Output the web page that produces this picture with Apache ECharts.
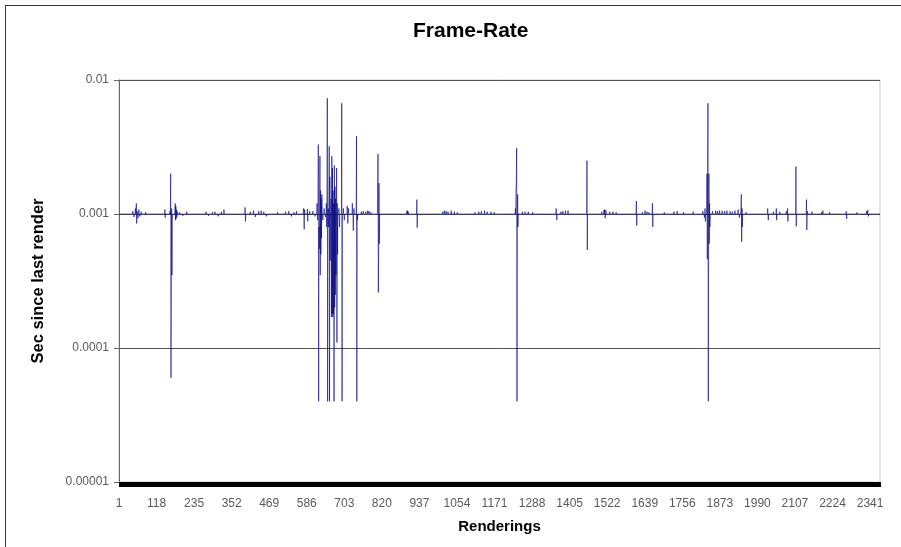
<!DOCTYPE html>
<html>
<head>
<meta charset="utf-8">
<script src="https://cdn.jsdelivr.net/npm/echarts@6/dist/echarts.min.js"></script>
<style>
  html, body { margin: 0; padding: 0; background: #ffffff; }
  #wrap { position: relative; width: 901px; height: 547px; overflow: hidden; }
  #frame { position: absolute; left: 5px; top: 5px; width: 1000px; height: 1000px; border-left: 1px solid #333; border-top: 1px solid #333; pointer-events: none; }
  #chart { position: absolute; left: 0; top: 0; width: 901px; height: 547px; }
</style>
</head>
<body>
<div id="wrap">
  <div id="chart"></div>
  <div id="frame"></div>
</div>
<script>
// ---- data ----
const renderingCount = 2372;              // number of renderings on the category axis
const baseSeconds = 0.001;                // steady frame time (sec since last render)
const xTickLabels = ['1','118','235','352','469','586','703','820','937','1054','1171','1288','1405','1522','1639','1756','1873','1990','2107','2224','2341'];
const yTickLabels = ['0.00001','0.0001','0.001','0.01'];

// renderings whose frame time departs from the steady value
const spikeRendering = [
  44,48,52,55,56,58,60,63,66,70,84,
  144,145,160,162,163,164,165,166,167,176,177,178,179,180,181,183,190,200,212,
  272,280,292,300,310,320,328,394,395,410,420,426,436,444,452,460,495,520,530,538,546,554,
  576,578,579,588,589,595,605,612,618,620,622,623,624,625,627,628,629,630,631,632,633,636,640,644,
  647,648,650,651,653,654,656,657,658,659,662,663,664,665,666,667,668,669,670,671,672,673,674,675,676,677,
  679,680,681,682,686,688,695,696,700,703,712,714,716,728,731,733,741,742,744,
  756,762,770,776,780,786,807,808,809,810,811,812,
  898,900,902,929,930,1010,1015,1020,1026,1036,1046,1055,1110,1122,1130,1140,1148,1160,1170,
  1236,1238,1239,1240,1241,1242,1243,1244,1258,1266,1276,1290,
  1363,1365,1378,1384,1392,1400,1459,1460,
  1505,1512,1514,1516,1518,1530,1540,1550,1613,1614,1632,1640,1646,1652,1663,1664,
  1700,1730,1740,1760,1790,1820,1825,1827,1828,
  1833,1834,1835,1836,1837,1838,1839,1840,1841,1842,
  1850,1860,1866,1872,1880,1888,1895,1905,1912,1920,1930,1934,1939,1940,1941,1942,1943,1955,
  2022,2024,2040,2049,2050,2060,2080,2084,2085,2110,2111,2143,2144,2146,
  2160,2190,2194,2215,2267,2268,2300,2330,2334,2336
];
const spikeSeconds = [
  0.00105,0.00095,0.0011,0.0012,0.00085,0.00105,0.00093,0.00108,0.00096,0.00104,0.00103,
  0.00108,0.00094,0.00105,0.002,0.00006,0.00034,0.0011,0.00035,0.0009,0.0012,0.0009,0.00115,0.00092,0.00108,0.00095,0.00104,0.00103,0.00097,0.00104,
  0.00104,0.00097,0.00103,0.00104,0.00096,0.00104,0.00108,0.00112,0.00088,0.00104,0.00106,0.00095,0.00105,0.00106,0.00104,0.00096,0.00103,0.00104,0.00105,0.00096,0.00103,0.00105,
  0.0011,0.00077,0.00108,0.00109,0.00088,0.00105,0.00105,0.00096,0.0012,0.0009,0.0033,0.00004,0.0008,0.00055,0.0027,0.00035,0.0015,0.0005,0.0013,0.00066,0.0014,0.0009,0.0011,0.00095,
  0.0012,0.0008,0.0073,0.00004,0.0011,0.0008,0.0032,0.00004,0.0019,0.00045,0.0013,0.00017,0.0027,0.00018,0.0022,0.00017,0.0015,0.00018,0.0012,0.00004,0.0023,0.0002,0.0016,0.00025,0.0013,0.00035,
  0.0022,0.00011,0.0012,0.0005,0.0011,0.0008,0.0067,0.00004,0.0011,0.0009,0.00115,0.00085,0.0011,0.0012,0.00075,0.0011,0.0038,0.00004,0.0009,
  0.00104,0.00105,0.00104,0.00106,0.00105,0.00103,0.0018,0.0028,0.00026,0.0005,0.0017,0.0006,
  0.00105,0.00106,0.00104,0.00128,0.00079,0.00104,0.00106,0.00105,0.00104,0.00106,0.00104,0.00103,0.00103,0.00104,0.00105,0.00106,0.00104,0.00104,0.00103,
  0.0011,0.0015,0.0018,0.0031,0.00004,0.00075,0.0014,0.0008,0.00104,0.00104,0.00104,0.00103,
  0.0011,0.0009,0.00104,0.00105,0.00106,0.00106,0.0025,0.00054,
  0.00104,0.00107,0.00108,0.00093,0.00107,0.00104,0.00104,0.00103,0.00125,0.00082,0.00103,0.00106,0.00104,0.00103,0.0012,0.0008,
  0.00103,0.00104,0.00105,0.00103,0.00104,0.00105,0.00094,0.0011,0.00088,
  0.002,0.00046,0.0026,0.0067,0.00004,0.0005,0.002,0.0006,0.0012,0.0008,
  0.00105,0.00106,0.00105,0.00106,0.00106,0.00105,0.00106,0.00105,0.00104,0.00106,0.00108,0.00094,0.0012,0.0014,0.00062,0.0011,0.0008,0.00103,
  0.0011,0.0009,0.00104,0.0011,0.0009,0.00104,0.00105,0.0011,0.00088,0.00226,0.00081,0.00128,0.00076,0.00105,
  0.00104,0.00103,0.00106,0.00103,0.00105,0.00092,0.00103,0.00105,0.00107,0.00096
];

// ---- build library inputs ----
const categories = [];
const seconds = [];
for (let i = 1; i <= renderingCount; i++) { categories.push(String(i)); seconds.push(baseSeconds); }
spikeRendering.forEach((r, k) => { seconds[r - 1] = spikeSeconds[k]; });
const seriesData = seconds.map((v, i) => [i, v]);

const labelFont = '"Liberation Sans", Arial, sans-serif';
const chart = echarts.init(document.getElementById('chart'), null, { renderer: 'canvas' });
chart.setOption({
  animation: false,
  backgroundColor: '#ffffff',
  title: {
    text: 'Frame-Rate',
    left: 408, top: 16,
    textStyle: { fontFamily: labelFont, fontWeight: 'bold', fontSize: 21, color: '#000' }
  },
  grid: { left: 119, right: 21, top: 80, bottom: 65, show: true, borderColor: '#c8c8c8', borderWidth: 1 },
  xAxis: {
    type: 'category',
    data: categories,
    boundaryGap: false,
    name: 'Renderings',
    nameLocation: 'middle',
    nameGap: 37,
    nameTextStyle: { fontFamily: labelFont, fontWeight: 'bold', fontSize: 15, color: '#000' },
    axisLine: { show: true, lineStyle: { color: '#000', width: 1 } },
    axisTick: { show: true, interval: 0, length: 5, inside: false, lineStyle: { color: '#000', width: 1 } },
    axisLabel: {
      interval: (idx, val) => xTickLabels.indexOf(val) >= 0,
      margin: 16,
      fontFamily: labelFont, fontSize: 12, color: '#5a5a5a'
    },
    splitLine: { show: false }
  },
  yAxis: {
    type: 'log',
    logBase: 10,
    min: 0.00001,
    max: 0.01,
    name: 'Sec since last render',
    nameLocation: 'middle',
    nameGap: 72,
    nameRotate: 90,
    nameTextStyle: { fontFamily: labelFont, fontWeight: 'bold', fontSize: 16.5, color: '#000' },
    axisLine: { show: true, lineStyle: { color: '#666', width: 1 } },
    axisTick: { show: true, length: 5, inside: false, lineStyle: { color: '#666' } },
    axisLabel: {
      margin: 10,
      fontFamily: labelFont, fontSize: 12, color: '#5a5a5a',
      formatter: (v) => {
        const e = Math.round(Math.log10(v));
        return yTickLabels[e + 5] !== undefined ? yTickLabels[e + 5] : '';
      }
    },
    splitLine: { show: true, lineStyle: { color: '#555', width: 1 } },
    minorTick: { show: false },
    minorSplitLine: { show: false }
  },
  series: [{
    type: 'custom',
    coordinateSystem: 'cartesian2d',
    data: seriesData,
    encode: { x: 0, y: 1 },
    clip: true,
    z: 3,
    renderItem: (params, api) => {
      const i = params.dataIndex;
      if (i === 0) return null;
      const p0 = api.coord([i - 1, api.value(1, i - 1)]);
      const p1 = api.coord([i, api.value(1)]);
      return {
        type: 'line',
        shape: { x1: p0[0], y1: p0[1], x2: p1[0], y2: p1[1] },
        style: { stroke: '#000080', lineWidth: 0.6 },
        silent: true
      };
    }
  }]
});
</script>
</body>
</html>
